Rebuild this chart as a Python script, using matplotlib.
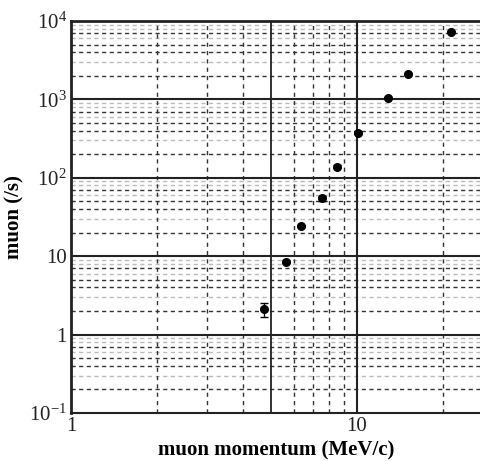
import matplotlib
matplotlib.use("Agg")
import matplotlib.pyplot as plt
import numpy as np

plt.rcParams['font.family'] = ['Liberation Serif', 'DejaVu Serif']
plt.rcParams['mathtext.fontset'] = 'custom'
plt.rcParams['mathtext.rm'] = 'Liberation Serif'
plt.rcParams['mathtext.it'] = 'Liberation Serif:italic'
plt.rcParams['mathtext.bf'] = 'Liberation Serif:bold'

# data
momentum = [4.74, 5.63, 6.36, 7.56, 8.54, 10.1, 12.8, 15.1, 21.4]
muon_rate = [2.1, 8.5, 24.5, 54.7, 139, 369, 1050, 2110, 7310]
err_low = [0.42, 0.4, 0.8, 4.0, 5.0, 10, 20, 40, 100]
err_high = [0.42, 0.4, 0.8, 4.0, 5.0, 10, 20, 40, 100]

x_ticks = [1, 10]
x_ticklabels = ['1', '10']
y_ticks = [0.1, 1, 10, 100, 1000, 10000]
y_ticklabels = ['$10^{-1}$', '1', '10', '$10^2$', '$10^3$', '$10^4$']

fig = plt.figure(figsize=(4.81, 4.61), dpi=100)
ax = fig.add_axes([71/481, 1-413/461, 1-71/481, (413-21)/461])
ax.set_xscale('log')
ax.set_yscale('log')
ax.set_xlim(1, 27.15)
ax.set_ylim(0.1, 10000)

# minor grid lines
dark = '#333333'
light = '#bbbbbb'
ycol = {2: dark, 3: light, 4: dark, 5: dark, 6: light, 7: dark, 8: light, 9: light}
for dec in [0.1, 1, 10, 100, 1000]:
    for m in range(2, 10):
        ax.axhline(dec*m, color=ycol[m], lw=1.0, ls=(0, (3, 2.5)), zorder=1)
for dec in [1, 10]:
    for m in range(2, 10):
        v = dec*m
        if v > 27:
            continue
        if v == 5:
            ax.axvline(v, color='#222222', lw=1.3, zorder=1.5)
        else:
            ax.axvline(v, color=dark, lw=1.0, ls=(0, (3, 3)), zorder=1.5)
# major grid
for v in [1, 10, 100, 1000]:
    ax.axhline(v, color='#222222', lw=1.5, zorder=2)
ax.axvline(10, color='#222222', lw=1.5, zorder=2)

ax.errorbar(momentum, muon_rate, yerr=[err_low, err_high], fmt='o', color='black',
            ms=5.5, capsize=3, elinewidth=1.0, capthick=1.0, zorder=5)

ax.xaxis.set_major_locator(matplotlib.ticker.FixedLocator(x_ticks))
ax.xaxis.set_major_formatter(matplotlib.ticker.FixedFormatter(x_ticklabels))
ax.xaxis.set_minor_locator(matplotlib.ticker.NullLocator())
ax.yaxis.set_major_locator(matplotlib.ticker.FixedLocator(y_ticks))
ax.yaxis.set_major_formatter(matplotlib.ticker.FixedFormatter(y_ticklabels))
ax.yaxis.set_minor_locator(matplotlib.ticker.NullLocator())
ax.tick_params(axis='both', which='both', length=0, labelsize=15, colors='#222222', pad=3)

for s in ['left', 'top']:
    ax.spines[s].set_linewidth(2.0)
    ax.spines[s].set_color('#222222')
ax.spines['bottom'].set_linewidth(1.5)
ax.spines['bottom'].set_color('#222222')
ax.spines['right'].set_visible(False)

ax.set_xlabel('muon momentum (MeV/c)', fontsize=15, fontweight='bold')
ax.set_ylabel('muon (/s)', fontsize=15, fontweight='bold')
ax.xaxis.set_label_coords(0.5, (413-440)/392)
ax.yaxis.set_label_coords((24-71)/410, 0.5)

fig.savefig('out.png', dpi=100)
